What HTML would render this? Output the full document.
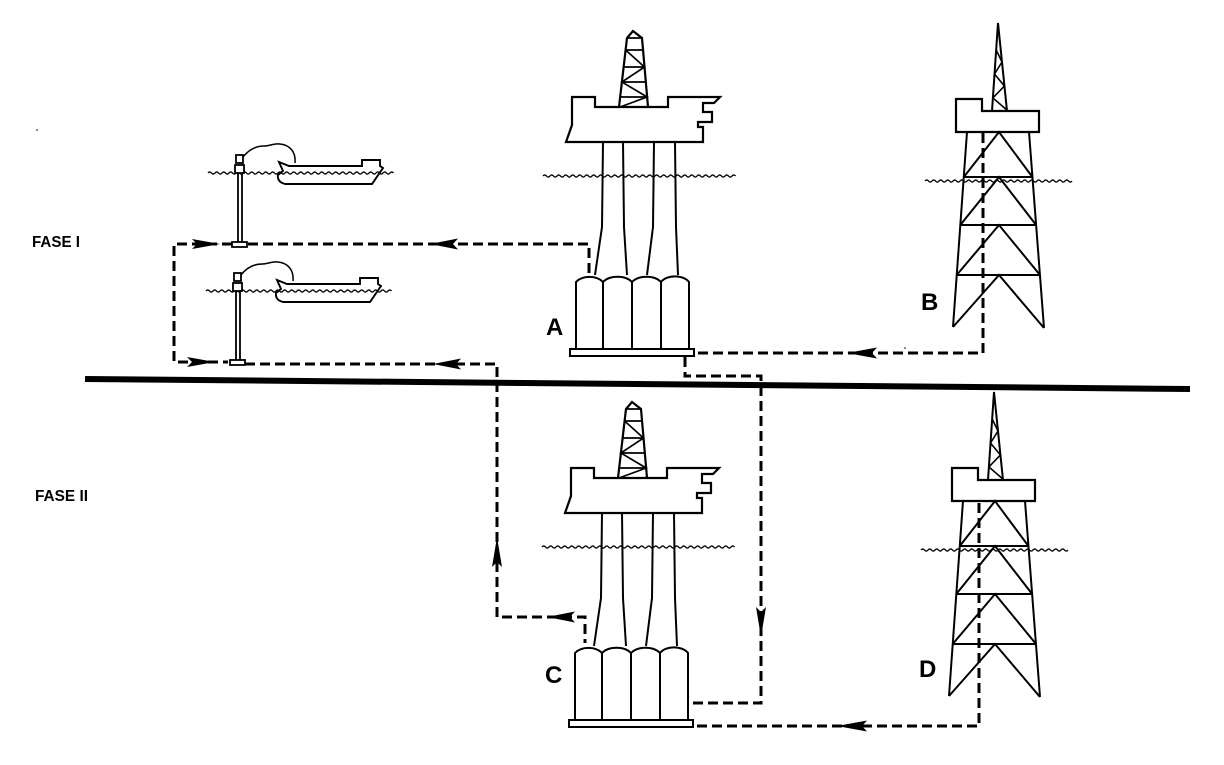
<!DOCTYPE html>
<html><head><meta charset="utf-8"><style>
html,body{margin:0;padding:0;background:#fff;}
svg{display:block}
</style></head><body>
<svg width="1224" height="765" viewBox="0 0 1224 765" xmlns="http://www.w3.org/2000/svg">
<defs>
<g id="plat" stroke="#000" stroke-linejoin="miter">
 <path d="M619,107 L627,38 L633,31 L642,38 L648,107" fill="#fff" stroke-width="2.2"/>
 <path d="M627,38 H642 M625.6,50 H643 M623.6,67 H644.5 M621.9,82 H645.8 M620.2,97 H647.1 M625.6,50 L644.5,67 L621.9,82 L647.1,97 L620,107" fill="none" stroke-width="1.7"/>
 <path d="M572,97 H595 V107 H668 V97 H720 L714,103 H703 V112 H712 V122 H698 V127 H703 V142 H566 L572,125 Z" fill="#fff" stroke-width="2.2"/>
 <path d="M603,142 L602,227 L595,275 M623,142 L624,227 L627,275 M654,142 L653,227 L647,275 M675,142 L676,227 L678,275" fill="none" stroke-width="2"/>
 <path d="M543,176 q1.75,-2.2 3.5,0 t3.5,0t3.5,0t3.5,0t3.5,0t3.5,0t3.5,0t3.5,0t3.5,0t3.5,0t3.5,0 t3.5,0t3.5,0t3.5,0t3.5,0t3.5,0t3.5,0t3.5,0t3.5,0t3.5,0t3.5,0 t3.5,0t3.5,0t3.5,0t3.5,0t3.5,0t3.5,0t3.5,0t3.5,0t3.5,0t3.5,0 t3.5,0t3.5,0t3.5,0t3.5,0t3.5,0t3.5,0t3.5,0t3.5,0t3.5,0t3.5,0 t3.5,0t3.5,0t3.5,0t3.5,0t3.5,0t3.5,0t3.5,0t3.5,0t3.5,0t3.5,0 t3.5,0t3.5,0t3.5,0t3.5,0" fill="none" stroke-width="1.4"/>
 <path d="M576,349 V282 A16,11 0 0 1 603,282 V349 M603,282 A17,11 0 0 1 632,282 V349 M632,282 A17,11 0 0 1 661,282 V349 M661,282 A16,11 0 0 1 689,282 V349" fill="#fff" stroke-width="2"/>
 <rect x="570" y="349" width="124" height="7" fill="#fff" stroke-width="2"/>
</g>
<g id="twr" stroke="#000">
 <path d="M992,111 L998,23 L1007,111" fill="none" stroke-width="2"/>
 <path d="M996.2,50 L1002,62 L994.5,74 L1004.4,86 L992.9,98 L1006.9,110" fill="none" stroke-width="1.6"/>
 <path d="M956,132 V99 H982 V111 H1039 V132 Z" fill="#fff" stroke-width="2.2"/>
 <path d="M967,132 L953,327 M1029,132 L1044,328 M963.8,177 H1032.4 M960.3,225 H1036.1 M956.7,275 H1040 M963.8,177 L999,132 L1032.4,177 M960.3,225 L999,177 L1036.1,225 M956.7,275 L999,225 L1040,275 M953,327 L999,275 L1044,328" fill="none" stroke-width="2"/>
 <path d="M925,181 q1.75,-2.2 3.5,0 t3.5,0t3.5,0t3.5,0t3.5,0t3.5,0t3.5,0t3.5,0t3.5,0t3.5,0t3.5,0 t3.5,0t3.5,0t3.5,0t3.5,0t3.5,0t3.5,0t3.5,0t3.5,0t3.5,0t3.5,0 t3.5,0t3.5,0t3.5,0t3.5,0t3.5,0t3.5,0t3.5,0t3.5,0t3.5,0t3.5,0 t3.5,0t3.5,0t3.5,0t3.5,0t3.5,0t3.5,0t3.5,0t3.5,0t3.5,0t3.5,0 t3.5,0" fill="none" stroke-width="1.4"/>
</g>
<g id="buoy" stroke="#000">
 <path d="M208,173 q1.75,-2.2 3.5,0 t3.5,0t3.5,0t3.5,0t3.5,0t3.5,0t3.5,0t3.5,0t3.5,0t3.5,0t3.5,0 t3.5,0t3.5,0t3.5,0t3.5,0t3.5,0t3.5,0t3.5,0t3.5,0t3.5,0t3.5,0 t3.5,0t3.5,0t3.5,0t3.5,0t3.5,0t3.5,0t3.5,0t3.5,0t3.5,0t3.5,0 t3.5,0t3.5,0t3.5,0t3.5,0t3.5,0t3.5,0t3.5,0t3.5,0t3.5,0t3.5,0 t3.5,0t3.5,0t3.5,0t3.5,0t3.5,0t3.5,0t3.5,0t3.5,0t3.5,0t3.5,0 t3.5,0t3.5,0" fill="none" stroke-width="1.4"/>
 <path d="M238,173 V242 M242,173 V242" fill="none" stroke-width="1.8"/>
 <rect x="236" y="155" width="7" height="8" fill="#fff" stroke-width="1.8"/>
 <rect x="235" y="165" width="9" height="8" fill="#fff" stroke-width="1.8"/>
 <rect x="232" y="242" width="15" height="5" fill="#fff" stroke-width="1.8"/>
 <path d="M243,157 C250,148 258,146 264,146 C270,146 274,143 280,144 C290,145 296,152 295,163" fill="none" stroke-width="1.5"/>
 <path d="M279,162 L289,166 H362 V160 H380 V166 L383,168 L372,184 H285 Q277,182 278,175 L283,171 Z" fill="none" stroke-width="1.9"/>
</g>
</defs>

<use href="#plat"/>
<use href="#plat" transform="translate(-1,371)"/>
<use href="#twr"/>
<use href="#twr" transform="translate(-4,369)"/>
<use href="#buoy"/>
<use href="#buoy" transform="translate(-2,118)"/>

<!-- thick separator -->
<path d="M85,379 L1190,389" stroke="#000" stroke-width="6" fill="none"/>

<!-- dashed connectors -->
<g fill="none" stroke="#000" stroke-width="3" stroke-dasharray="10 5">
 <path d="M589,273 V244 H247"/>
 <path d="M232,244 H174 V362 H228"/>
 <path d="M685,357 V376 H761 V703 H689"/>
 <path d="M983,133 V353 H694"/>
 <path d="M245,364 H497 V617 H585 V643"/>
 <path d="M979,503 V726 H693"/>
</g>

<!-- arrowheads -->
<g fill="#000" stroke="none">
 <polygon points="430,244 458,238.5 453,244 458,249.5"/>
 <polygon points="220,244 192,239 197,244 192,249"/>
 <polygon points="215,362 187,357 192,362 187,367"/>
 <polygon points="433,364 461,358.5 456,364 461,369.5"/>
 <polygon points="497,537 492,567 497,562 502,567"/>
 <polygon points="547,617 575,611.5 570,617 575,622.5"/>
 <polygon points="761,637 756,607 761,612 766,607"/>
 <polygon points="847,353 877,347.5 872,353 877,358.5"/>
 <polygon points="837,726 867,720.5 862,726 867,731.5"/>
 <circle cx="37" cy="130" r="0.8"/>
 <circle cx="905" cy="348" r="0.8"/>
</g>

<!-- labels -->
<g font-family="Liberation Sans, Arial, sans-serif" font-weight="bold" fill="#000">
 <text x="32" y="247" font-size="16" textLength="48" lengthAdjust="spacingAndGlyphs">FASE I</text>
 <text x="35" y="501" font-size="16" textLength="53" lengthAdjust="spacingAndGlyphs">FASE II</text>
 <text x="546" y="335" font-size="24">A</text>
 <text x="921" y="310" font-size="24">B</text>
 <text x="545" y="683" font-size="24">C</text>
 <text x="919" y="677" font-size="24">D</text>
</g>
</svg>
</body></html>
